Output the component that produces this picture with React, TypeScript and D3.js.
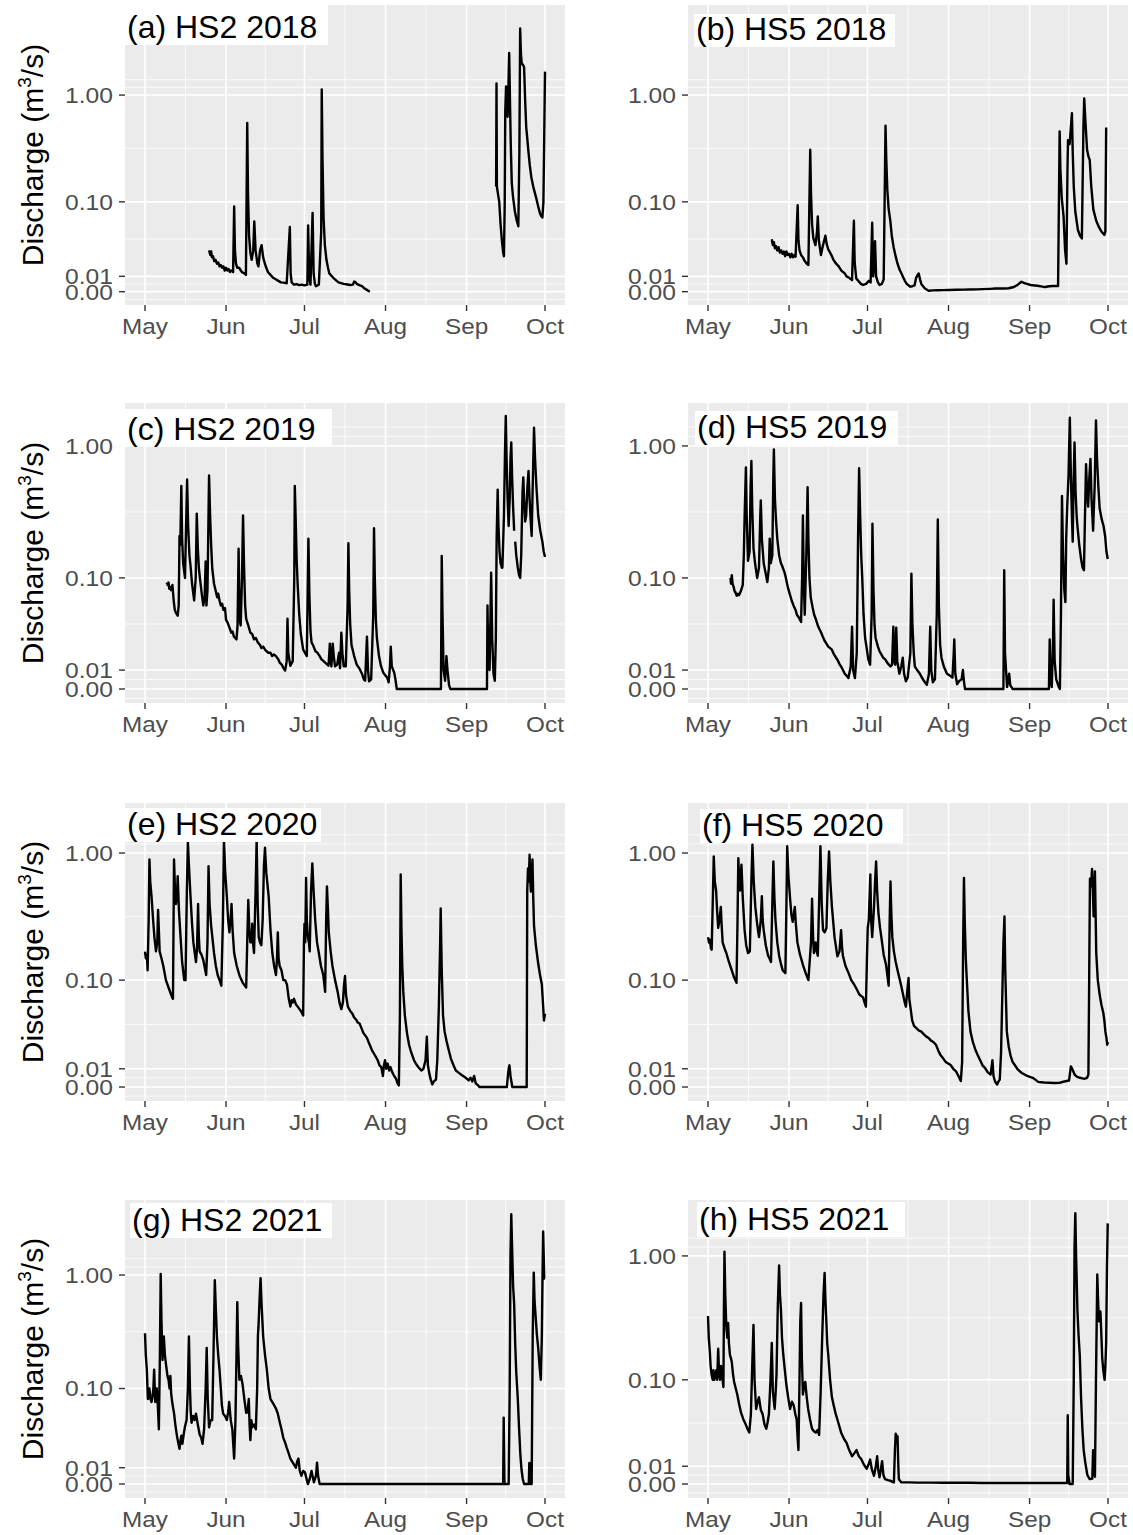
import React from "react";
import * as d3 from "d3";

type Pt = [number, number] | null;

// ---- data: [days since May 1, discharge m3/s]; null = gap ----
const hs2_2018: Pt[] = [
  [24.5,0.030],[25,0.026],[25.3,0.029],[25.6,0.024],[26,0.025],[26.5,0.021],[27,0.022],[27.5,0.019],[28,0.02],[28.5,0.017],[29,0.018],[29.5,0.016],[30,0.017],[30.5,0.014],[31,0.016],[31.5,0.014],[32,0.015],[32.5,0.013],[33,0.014],[33.7,0.013],[34.1,0.09],[34.4,0.03],[34.8,0.019],[35.3,0.016],[36,0.016],[37,0.013],[38,0.012],[38.6,0.011],[39.1,0.55],[39.4,0.12],[39.8,0.045],[40.3,0.028],[40.8,0.022],[41.4,0.03],[41.8,0.064],[42.3,0.03],[43,0.019],[43.4,0.017],[44,0.03],[44.6,0.035],[45.2,0.024],[46,0.018],[47,0.013],[48,0.011],[49,0.009],[50,0.008],[51,0.007],[52,0.006],[53,0.0058],[54.2,0.0054],[55.4,0.056],[55.7,0.012],[56.1,0.006],[57,0.0045],[58,0.0048],[59,0.0042],[60,0.0045],[61,0.004],[62.1,0.0045],[62.4,0.058],[62.8,0.01],[63.3,0.0045],[64.1,0.078],[64.5,0.012],[65,0.005],[65.4,0.0035],[66.5,0.0045],[67.4,0.05],[67.6,1.13],[67.9,0.25],[68.3,0.07],[68.8,0.035],[69.4,0.022],[70,0.016],[70.5,0.012],[71,0.011],[72,0.009],[73,0.0075],[74,0.006],[75,0.0055],[76,0.005],[77,0.0048],[78.4,0.0043],[79.5,0.0045],[80,0.0065],[80.5,0.0062],[81,0.005],[82,0.0042],[83,0.0035],[84,0.002],[85,0.001],[86,0.0],
  null,
  [134.3,0.14],[134.45,1.28],[134.6,0.14],[135,0.12],[135.5,0.1],[136,0.06],[136.5,0.04],[137,0.028],[137.3,0.025],[137.6,0.1],[137.8,0.7],[138.1,1.2],[138.4,0.8],[138.7,0.63],[139.1,1.5],[139.3,2.46],[139.6,0.9],[139.9,0.35],[140.3,0.15],[140.8,0.11],[141.5,0.08],[142.2,0.065],[142.8,0.057],[143.2,0.3],[143.5,4.15],[143.8,2.4],[144.1,1.97],[144.6,1.9],[145,1.82],[145.4,0.9],[145.8,0.51],[146.2,0.4],[146.6,0.31],[147.2,0.22],[147.8,0.17],[148.5,0.14],[149.2,0.12],[149.8,0.105],[150.4,0.09],[151.1,0.077],[151.6,0.072],[152,0.07],[152.4,0.1],[152.7,0.4],[153,1.65]
];

const hs5_2018: Pt[] = [
  [24.4,0.041],[24.8,0.035],[25.2,0.038],[25.6,0.032],[26,0.034],[26.5,0.03],[27,0.033],[27.5,0.028],[28,0.03],[28.5,0.027],[29,0.029],[29.5,0.025],[30,0.029],[30.5,0.026],[31,0.027],[31.5,0.024],[32,0.027],[32.5,0.024],[33,0.026],[33.5,0.0246],[34.3,0.093],[34.6,0.04],[35,0.03],[35.6,0.026],[36.3,0.024],[37,0.021],[37.8,0.019],[38.4,0.018],[39.1,0.31],[39.4,0.12],[39.8,0.06],[40.3,0.042],[41.1,0.035],[41.7,0.05],[42,0.072],[42.4,0.04],[43.2,0.026],[44,0.035],[44.9,0.045],[45.4,0.036],[46,0.031],[46.7,0.028],[47.4,0.025],[48,0.022],[49,0.019],[50,0.017],[51,0.014],[52.3,0.012],[53,0.01],[54,0.009],[55.1,0.0075],[55.8,0.065],[56.1,0.02],[56.7,0.0086],[57.5,0.007],[58.5,0.005],[59.3,0.0043],[60.5,0.005],[61.5,0.007],[62.2,0.006],[62.8,0.062],[63.2,0.01],[63.6,0.02],[63.9,0.039],[64.3,0.01],[65,0.006],[65.6,0.0043],[66.5,0.005],[67.2,0.008],[67.7,0.2],[67.9,0.52],[68.2,0.25],[68.6,0.13],[69.1,0.085],[69.7,0.066],[70.3,0.045],[71,0.033],[71.8,0.0246],[72.5,0.019],[73.2,0.015],[74,0.012],[74.6,0.0096],[75.3,0.007],[76,0.005],[76.8,0.004],[77.4,0.0032],[78.2,0.0035],[79,0.004],[79.6,0.009],[80.2,0.011],[80.6,0.012],[81.1,0.008],[81.6,0.005],[82.5,0.003],[83,0.002],[84.4,0.0006],[86,0.0008],[88,0.0009],[90,0.001],[92,0.0011],[95,0.0012],[98,0.0013],[100,0.0014],[103,0.0015],[105,0.0016],[108,0.0018],[110,0.002],[113,0.002],[115,0.0022],[117,0.003],[118.5,0.0045],[119.9,0.0064],[121,0.0055],[122,0.005],[123.4,0.0043],[125,0.004],[126,0.0038],[128,0.0032],[129,0.003],[130.5,0.0035],[132,0.0036],[133.9,0.0036],[134.5,0.46],[134.8,0.2],[135.3,0.11],[136,0.072],[136.6,0.03],[137.1,0.019],[137.5,0.2],[137.7,0.38],[138.3,0.35],[138.8,0.5],[139.2,0.68],[139.5,0.3],[139.9,0.14],[140.5,0.08],[141.5,0.052],[142.3,0.045],[143,0.042],[143.6,0.5],[143.9,0.93],[144.4,0.55],[145,0.31],[145.5,0.27],[146,0.25],[146.6,0.14],[147.4,0.084],[148.5,0.065],[149.5,0.056],[150.5,0.05],[151.6,0.046],[152,0.05],[152.3,0.5]
];

const hs2_2019: Pt[] = [
  [8.3,0.092],[8.7,0.088],[9,0.092],[9.3,0.082],[9.6,0.085],[10,0.08],[10.5,0.088],[11,0.065],[11.4,0.055],[11.8,0.052],[12.5,0.049],[12.9,0.06],[13.2,0.21],[13.5,0.18],[13.9,0.5],[14.2,0.2],[14.6,0.13],[15.3,0.1],[15.8,0.3],[16.1,0.56],[16.5,0.25],[17,0.15],[17.4,0.125],[18,0.09],[18.8,0.066],[19.4,0.1],[19.8,0.31],[20.2,0.17],[20.6,0.12],[21,0.1],[21.7,0.075],[22.3,0.06],[22.8,0.07],[23.2,0.134],[23.5,0.06],[23.9,0.08],[24.5,0.6],[24.9,0.3],[25.3,0.18],[25.7,0.12],[26.4,0.09],[27.1,0.078],[27.6,0.07],[28,0.075],[28.5,0.066],[29,0.06],[29.5,0.062],[30,0.055],[30.6,0.057],[31,0.045],[31.5,0.043],[32,0.04],[32.5,0.037],[33,0.034],[33.5,0.035],[34,0.031],[34.5,0.03],[35,0.029],[35.4,0.04],[35.8,0.168],[36.2,0.045],[36.6,0.04],[37.1,0.1],[37.5,0.3],[37.9,0.12],[38.3,0.06],[38.7,0.046],[39.5,0.04],[40.3,0.034],[41,0.033],[41.7,0.029],[42.4,0.03],[43.1,0.027],[44,0.025],[44.5,0.023],[45.2,0.024],[45.9,0.022],[46.5,0.021],[47.2,0.02],[48,0.02],[48.6,0.018],[49.3,0.019],[50.1,0.018],[51,0.016],[51.6,0.014],[52.3,0.013],[53,0.011],[53.6,0.0097],[54.2,0.015],[54.5,0.046],[54.8,0.02],[55.3,0.015],[55.6,0.0124],[56.5,0.015],[57.1,0.1],[57.3,0.5],[57.6,0.3],[58,0.14],[58.4,0.088],[59,0.05],[59.6,0.033],[60.5,0.022],[61.2,0.02],[61.9,0.018],[62.5,0.2],[62.9,0.07],[63.3,0.035],[63.7,0.027],[64.5,0.024],[65.2,0.021],[66,0.02],[66.8,0.018],[67.5,0.016],[68.3,0.015],[69,0.014],[70.2,0.0124],[70.7,0.026],[71,0.016],[71.3,0.012],[71.8,0.026],[72.2,0.018],[72.7,0.012],[73.5,0.013],[74.2,0.02],[74.6,0.011],[75.1,0.034],[75.5,0.02],[76,0.012],[76.8,0.012],[77.5,0.06],[77.8,0.185],[78.1,0.08],[78.5,0.04],[79,0.025],[80,0.018],[81,0.013],[82.1,0.0106],[83,0.008],[83.7,0.005],[84.2,0.0043],[84.9,0.031],[85.3,0.01],[85.7,0.004],[86.5,0.005],[87.3,0.05],[87.6,0.24],[87.9,0.1],[88.3,0.045],[88.7,0.03],[89.5,0.018],[90.3,0.012],[91.1,0.0087],[92,0.007],[92.6,0.006],[93.2,0.0035],[93.7,0.012],[94,0.024],[94.4,0.012],[95.3,0.0087],[95.8,0.005],[96.3,0],[113.2,0],[113.5,0.148],[113.8,0.05],[114.2,0.01],[114.8,0.0043],[115.3,0.018],[115.7,0.01],[116.3,0.002],[116.8,0],[130.8,0],[131,0.06],[131.3,0.015],[131.8,0.01],[132.2,0.06],[132.4,0.11],[132.8,0.03],[133.3,0.008],[133.8,0.0043],[134.2,0.03],[134.5,0.2],[134.9,0.47],[135.2,0.25],[135.6,0.16],[136,0.13],[136.5,0.12],[136.7,0.12],[137.3,0.3],[137.7,0.9],[138,1.68],[138.3,0.8],[138.7,0.4],[139.1,0.25],[139.5,0.4],[139.8,0.8],[140.1,1.06],[140.4,0.6],[140.8,0.35],[141.2,0.23],
  null,
  [141.6,0.19],[142,0.15],[142.6,0.12],[143.1,0.105],[143.5,0.1],[143.9,0.15],[144.4,0.45],[144.7,0.58],[145,0.4],[145.4,0.27],[145.8,0.3],[146.3,0.5],[146.7,0.65],[147.1,0.4],[147.5,0.28],[147.9,0.21],[148.3,0.5],[148.8,1.37],[149.2,0.8],[149.7,0.5],[150.4,0.3],[151.2,0.23],[152,0.19],[152.5,0.16],[153,0.145]
];

const hs5_2019: Pt[] = [
  [8.6,0.1],[8.8,0.09],[9.1,0.105],[9.4,0.09],[9.8,0.085],[10.2,0.078],[10.5,0.077],[11,0.072],[11.5,0.075],[11.9,0.073],[12.5,0.078],[13.3,0.088],[13.7,0.15],[14,0.29],[14.5,0.69],[14.8,0.3],[15.3,0.136],[15.9,0.16],[16.3,0.5],[16.6,0.77],[16.9,0.35],[17.4,0.17],[18,0.13],[18.8,0.1],[19.5,0.12],[20,0.3],[20.2,0.39],[20.6,0.2],[21.3,0.13],[22,0.11],[22.7,0.093],[23.3,0.12],[23.6,0.2],[24,0.13],[24.6,0.15],[25,0.6],[25.2,0.94],[25.6,0.4],[26,0.28],[26.5,0.2],[27.2,0.15],[27.9,0.13],[28.3,0.125],[29.3,0.11],[29.8,0.1],[30.5,0.085],[31.4,0.073],[32,0.066],[32.7,0.06],[33.5,0.055],[34,0.05],[34.8,0.047],[35.6,0.043],[36,0.1],[36.3,0.3],[36.6,0.1],[37,0.05],[37.6,0.15],[38.1,0.49],[38.4,0.2],[38.8,0.1],[39.3,0.07],[40,0.058],[40.6,0.05],[41.2,0.046],[42,0.04],[42.6,0.037],[43.3,0.034],[43.9,0.031],[44.6,0.028],[45.3,0.026],[46,0.024],[46.7,0.023],[47.4,0.022],[48.2,0.019],[49,0.017],[49.8,0.015],[50.4,0.013],[50.9,0.012],[51.6,0.01],[52.3,0.008],[53,0.007],[53.7,0.0057],[54.6,0.012],[55.1,0.039],[55.5,0.01],[56.2,0.0057],[56.9,0.02],[57.4,0.2],[57.8,0.68],[58.2,0.3],[58.6,0.15],[59,0.1],[59.5,0.05],[60.1,0.03],[60.7,0.023],[61.3,0.016],[62,0.013],[62.6,0.05],[62.9,0.26],[63.3,0.08],[63.7,0.04],[64.1,0.03],[65,0.024],[65.6,0.021],[66.3,0.019],[67,0.017],[67.8,0.016],[68.6,0.014],[69.2,0.013],[69.8,0.012],[70.4,0.013],[70.9,0.039],[71.2,0.015],[71.6,0.013],[72,0.038],[72.4,0.015],[73.2,0.008],[73.9,0.012],[74.5,0.017],[75,0.008],[75.7,0.004],[76.4,0.006],[77.4,0.02],[77.8,0.108],[78.2,0.04],[78.7,0.02],[79.1,0.012],[80,0.01],[80.9,0.0083],[81.8,0.006],[82.7,0.004],[83.7,0.0022],[84.5,0.008],[85,0.039],[85.4,0.01],[86,0.0035],[86.8,0.005],[87.5,0.05],[87.9,0.28],[88.3,0.06],[88.8,0.025],[89.3,0.017],[90.2,0.012],[91.4,0.008],[92.5,0.007],[93.5,0.006],[94,0.02],[94.2,0.029],[94.6,0.008],[95.3,0.0025],[96,0.004],[97,0.005],[97.5,0.01],[97.9,0.004],[98.3,0],[113,0],[113.3,0.115],[113.6,0.02],[114.4,0.001],[115.2,0.008],[115.6,0.002],[116.5,0],[130.4,0],[130.7,0.029],[131,0.005],[131.5,0.001],[132,0.03],[132.2,0.067],[132.6,0.015],[133.2,0.005],[134.2,0.001],[134.6,0],[135,0.05],[135.4,0.42],[135.8,0.15],[136.3,0.08],[136.7,0.064],[137,0.2],[137.4,0.35],[137.9,0.6],[138.4,1.63],[138.8,0.6],[139.2,0.3],[139.5,0.19],[139.8,0.5],[140.2,1.06],[140.6,0.45],[141,0.3],[141.3,0.25],[142,0.18],[142.7,0.14],[143.3,0.12],[143.8,0.115],[144.2,0.3],[144.6,0.73],[145,0.45],[145.4,0.35],[145.9,0.6],[146.3,0.8],[146.7,0.4],[147.3,0.23],[147.9,0.5],[148.4,1.55],[148.8,0.8],[149.3,0.5],[149.8,0.34],[150.6,0.28],[151.3,0.25],[151.9,0.21],[152.4,0.16],[152.9,0.14]
];

const hs2_2020: Pt[] = [
  [0,0.169],[0.3,0.15],[0.7,0.16],[1,0.12],[1.4,0.3],[1.7,0.89],[2,0.6],[2.5,0.46],[3.1,0.3],[3.6,0.22],[4.2,0.17],[4.7,0.2],[5,0.36],[5.3,0.25],[5.6,0.17],[6.3,0.15],[7,0.13],[8,0.1],[9,0.087],[9.8,0.078],[10.4,0.072],[10.7,0.07],[11.1,0.89],[11.5,0.5],[11.8,0.4],[12.2,0.45],[12.5,0.66],[13,0.35],[13.6,0.22],[14.2,0.14],[15,0.1],[15.5,0.1],[16,0.5],[16.4,1.23],[16.8,0.8],[17.4,0.46],[18,0.28],[18.5,0.2],[19.5,0.14],[19.9,0.18],[20.3,0.4],[20.6,0.22],[20.9,0.17],[21.6,0.16],[22.3,0.145],[23.4,0.11],[23.9,0.2],[24.3,0.79],[24.7,0.4],[25.3,0.27],[26.4,0.165],[27.1,0.13],[27.8,0.11],[28.5,0.1],[29.2,0.09],[29.8,0.3],[30.2,1.27],[30.7,0.7],[31.3,0.46],[31.8,0.3],[32.3,0.24],[32.7,0.3],[33.1,0.4],[33.5,0.25],[34.1,0.165],[35.1,0.13],[36.2,0.108],[37.4,0.095],[38.7,0.087],[39.1,0.2],[39.5,0.43],[39.9,0.25],[40.3,0.2],[40.7,0.2],[41,0.28],[41.3,0.2],[41.7,0.165],[42.3,0.5],[42.7,1.27],[43.1,0.4],[43.5,0.22],[44,0.2],[44.5,0.19],[45,0.3],[45.5,0.8],[45.9,1.1],[46.4,0.7],[47.3,0.46],[48,0.25],[48.7,0.165],[49.4,0.13],[50.1,0.11],[50.5,0.15],[50.8,0.24],[51.1,0.15],[51.5,0.13],[52.2,0.12],[52.9,0.1],[53.6,0.1],[54.3,0.092],[55,0.07],[55.6,0.06],[56.1,0.068],[56.5,0.065],[57,0.07],[57.7,0.063],[58.4,0.06],[59.1,0.057],[59.8,0.054],[60.5,0.05],[60.8,0.2],[61,0.28],[61.3,0.2],[61.6,0.64],[61.9,0.3],[62.3,0.22],[62.7,0.2],[63,0.17],[63.5,0.5],[64,0.83],[64.5,0.5],[65.1,0.3],[65.8,0.2],[66.5,0.165],[67.3,0.13],[68.2,0.11],[68.9,0.08],[69.3,0.3],[69.6,0.55],[70,0.35],[70.3,0.24],[71,0.17],[71.7,0.13],[72.7,0.1],[73.7,0.08],[74.4,0.065],[75.1,0.057],[75.7,0.065],[76.1,0.09],[76.5,0.108],[76.9,0.075],[77.6,0.06],[78.5,0.055],[79.3,0.052],[80,0.048],[80.7,0.046],[81.4,0.043],[82.1,0.042],[82.8,0.038],[83.5,0.034],[84.2,0.032],[84.9,0.03],[85.5,0.027],[86.2,0.024],[86.9,0.021],[87.6,0.019],[88.3,0.017],[89,0.015],[89.7,0.012],[90.4,0.011],[91,0.006],[91.4,0.012],[91.8,0.015],[92.3,0.01],[92.8,0.013],[93.4,0.009],[93.9,0.011],[94.6,0.008],[95.3,0.006],[96,0.0045],[96.6,0.002],[97.1,0.0009],[97.5,0.05],[97.8,0.68],[98.1,0.25],[98.4,0.13],[98.8,0.08],[99.4,0.05],[100.2,0.034],[101,0.025],[101.8,0.02],[102.9,0.015],[103.6,0.013],[104.5,0.011],[105.7,0.009],[106.5,0.01],[107.3,0.015],[107.8,0.031],[108.2,0.012],[108.8,0.007],[109.3,0.004],[109.9,0.0014],[110.5,0.003],[111.3,0.004],[111.8,0.015],[112.4,0.06],[112.9,0.2],[113.1,0.37],[113.5,0.12],[114,0.05],[114.6,0.035],[115.3,0.028],[116.1,0.022],[117,0.016],[118,0.012],[118.9,0.009],[119.8,0.008],[120.7,0.007],[121.7,0.006],[122.7,0.005],[123.8,0.0036],[124.5,0.005],[125.2,0.003],[125.9,0.006],[126.5,0.002],[127.3,0.001],[128,0],[138.4,0],[138.8,0.006],[139.1,0.01],[139.4,0.012],[139.8,0.006],[140.5,0],[146,0],[146.2,0.5],[146.5,0.76],[146.8,0.6],[147.1,0.97],[147.4,0.6],[147.6,0.5],[147.9,0.6],[148.2,0.89],[148.5,0.45],[148.8,0.27],[149.5,0.19],[150.4,0.136],[151.1,0.11],[151.8,0.092],[152.3,0.06],[152.6,0.045],[153,0.052]
];

const hs5_2020: Pt[] = [
  [0,0.22],[0.4,0.2],[0.7,0.21],[1.1,0.18],[1.4,0.175],[1.8,0.4],[2.2,0.94],[2.6,0.6],[3.1,0.51],[3.5,0.35],[3.9,0.26],[4.4,0.3],[4.9,0.38],[5.2,0.28],[5.6,0.2],[6.3,0.18],[7,0.165],[8,0.14],[9.1,0.12],[10,0.105],[10.9,0.095],[11.3,0.3],[11.6,0.91],[12,0.55],[12.3,0.51],[12.6,0.7],[12.8,0.81],[13.3,0.45],[14,0.25],[14.6,0.19],[15.3,0.165],[16,0.17],[16.6,0.6],[17,1.16],[17.5,0.6],[18.1,0.38],[18.8,0.28],[19.5,0.22],[20.2,0.3],[20.6,0.46],[20.9,0.3],[21.3,0.25],[22.1,0.19],[23,0.157],[23.5,0.15],[24.1,0.14],[24.6,0.4],[25,0.86],[25.4,0.45],[25.8,0.3],[26.5,0.2],[27.2,0.157],[27.9,0.135],[28.6,0.12],[29.6,0.114],[30,0.4],[30.3,1.13],[30.8,0.65],[31.4,0.44],[31.9,0.33],[32.4,0.29],[32.8,0.33],[33.2,0.38],[33.6,0.28],[34.2,0.2],[35.2,0.16],[36.3,0.133],[37.3,0.115],[38.4,0.1],[39.4,0.2],[39.8,0.44],[40.2,0.22],[40.5,0.165],[40.9,0.18],[41.2,0.2],[41.6,0.17],[42,0.157],[42.6,0.5],[43,1.13],[43.5,0.4],[44,0.25],[44.6,0.24],[45.3,0.26],[45.8,0.6],[46.3,1.03],[46.8,0.6],[47.4,0.38],[48.4,0.22],[49.5,0.155],[50.3,0.17],[50.9,0.25],[51.3,0.18],[51.6,0.157],[52.6,0.13],[53.7,0.115],[54.8,0.1],[55.8,0.093],[56.8,0.085],[57.9,0.076],[58.6,0.074],[59.3,0.072],[59.9,0.065],[60.4,0.06],[60.8,0.15],[61.1,0.26],[61.5,0.3],[62.1,0.68],[62.4,0.3],[62.8,0.22],[63.2,0.3],[63.5,0.38],[63.9,0.6],[64.3,0.86],[64.7,0.5],[65.2,0.34],[65.8,0.26],[66.3,0.22],[67.2,0.16],[68.1,0.133],[68.6,0.11],[69.1,0.09],[69.5,0.3],[69.8,0.6],[70.1,0.35],[70.5,0.22],[71.1,0.17],[71.8,0.14],[72.5,0.12],[73.2,0.104],[73.9,0.09],[74.6,0.076],[75.2,0.066],[75.7,0.06],[76.2,0.08],[76.7,0.104],[77,0.07],[77.4,0.06],[78.1,0.045],[78.8,0.04],[79.7,0.038],[80.6,0.036],[81.6,0.035],[82.5,0.033],[83.5,0.031],[84.4,0.03],[85.3,0.028],[86.2,0.027],[87.2,0.025],[88.1,0.021],[89,0.018],[90,0.016],[90.9,0.014],[91.9,0.013],[92.8,0.0122],[93.8,0.01],[94.9,0.0085],[95.8,0.006],[96.7,0.0032],[97.2,0.0139],[97.6,0.2],[97.9,0.64],[98.2,0.3],[98.6,0.15],[99,0.1],[99.6,0.055],[100.4,0.035],[101.3,0.027],[102.2,0.022],[103.2,0.018],[104.1,0.015],[105,0.012],[106,0.0104],[107,0.008],[108.1,0.0068],[108.8,0.015],[109.2,0.006],[109.8,0.003],[110.6,0.0014],[111.1,0.003],[111.6,0.004],[112.1,0.02],[112.6,0.08],[113,0.2],[113.4,0.32],[113.7,0.12],[114.3,0.035],[115,0.024],[115.7,0.018],[116.5,0.014],[117.4,0.012],[118.3,0.01],[119.3,0.0085],[120.2,0.0075],[121.1,0.0068],[122.1,0.006],[123.1,0.0055],[124.2,0.005],[125.2,0.004],[126.3,0.0028],[127.5,0.0026],[128.8,0.0024],[130.4,0.0023],[132.5,0.0022],[134.6,0.0023],[136.3,0.003],[138.1,0.0035],[138.5,0.008],[138.8,0.0114],[139.3,0.01],[140.2,0.0068],[141.2,0.0055],[142.3,0.005],[143.2,0.0047],[144.1,0.0045],[145,0.005],[145.5,0.0068],[145.8,0.1],[146.1,0.63],[146.5,0.55],[146.9,0.75],[147.2,0.5],[147.5,0.32],[147.8,0.5],[148,0.72],[148.3,0.3],[148.5,0.165],[149.1,0.1],[149.8,0.076],[150.5,0.062],[151.2,0.053],[151.6,0.045],[152,0.035],[152.4,0.03],[152.7,0.025],[153,0.027]
];

const hs2_2021: Pt[] = [
  [0,0.31],[0.3,0.2],[0.7,0.148],[1.1,0.08],[1.4,0.09],[1.7,0.1],[2.1,0.08],[2.5,0.075],[2.9,0.085],[3.2,0.1],[3.5,0.148],[3.9,0.075],[4.2,0.09],[4.5,0.1],[4.9,0.07],[5.3,0.04],[5.7,0.2],[6,1.02],[6.3,0.4],[6.7,0.18],[7,0.25],[7.2,0.29],[7.6,0.2],[8.1,0.16],[8.6,0.13],[9,0.12],[9.4,0.1],[9.7,0.13],[10,0.09],[10.4,0.075],[10.8,0.065],[11.1,0.059],[11.6,0.045],[12.2,0.034],[12.7,0.028],[13.2,0.023],[13.6,0.03],[13.9,0.034],[14.3,0.027],[14.8,0.035],[15.3,0.043],[15.9,0.05],[16.4,0.1],[16.8,0.29],[17.2,0.1],[17.5,0.06],[17.8,0.047],[18.4,0.055],[19,0.05],[19.5,0.058],[20.2,0.045],[20.9,0.035],[21.5,0.032],[22,0.027],[22.6,0.04],[23.2,0.1],[23.6,0.23],[24,0.08],[24.5,0.042],[25.1,0.05],[25.7,0.05],[26.2,0.2],[26.7,0.9],[27.1,0.5],[27.5,0.29],[28,0.2],[28.5,0.148],[29,0.1],[29.4,0.07],[29.9,0.058],[30.6,0.055],[31.3,0.05],[31.8,0.06],[32.2,0.075],[32.8,0.05],[33.4,0.04],[33.8,0.025],[34.1,0.016],[34.6,0.05],[35,0.2],[35.3,0.58],[35.6,0.25],[36.1,0.12],[36.7,0.13],[37.3,0.11],[38,0.08],[38.7,0.059],[39.2,0.06],[39.7,0.08],[40,0.045],[40.3,0.03],[40.7,0.05],[41,0.042],[41.7,0.045],[42.4,0.04],[42.9,0.1],[43.2,0.3],[43.4,0.35],[43.8,0.6],[44.2,0.94],[44.6,0.55],[45.2,0.29],[45.9,0.2],[46.6,0.148],[47.3,0.1],[48,0.08],[48.7,0.075],[49.4,0.07],[50.1,0.065],[50.8,0.058],[51.5,0.048],[52.2,0.04],[52.9,0.032],[53.6,0.028],[54.2,0.024],[54.9,0.02],[55.6,0.016],[56.3,0.014],[57,0.012],[57.7,0.01],[58.2,0.014],[58.7,0.016],[59.2,0.008],[59.8,0.005],[60.5,0.008],[61.2,0.007],[61.8,0.003],[62.3,0],[63,0.003],[63.7,0.008],[64.2,0.004],[64.6,0.001],[65.4,0.005],[65.8,0.0133],[66.2,0.005],[66.8,0],[137,0],[137.2,0.053],[137.5,0],[139.1,0],[139.5,0.1],[139.8,1.5],[140.1,3.4],[140.4,1.8],[140.8,0.8],[141.2,0.56],[141.6,0.25],[142,0.14],[142.6,0.08],[143.1,0.04],[143.6,0.018],[144,0.009],[144.5,0.003],[145,0],[146.8,0],[147,0.013],[147.2,0.013],[147.5,0],[147.9,0],[148.3,0.3],[148.7,1.05],[149,0.6],[149.4,0.44],[149.9,0.3],[150.4,0.23],[150.9,0.16],[151.4,0.12],[151.8,0.3],[152.1,1.2],[152.3,2.4],[152.5,1.5],[152.7,0.93],[153,0.93]
];

const hs5_2021: Pt[] = [
  [0,0.33],[0.3,0.22],[0.7,0.17],[1,0.13],[1.4,0.11],[1.8,0.1],[2.1,0.12],[2.4,0.1],[2.8,0.11],[3.2,0.12],[3.5,0.1],[3.9,0.18],[4.2,0.12],[4.6,0.1],[5,0.13],[5.2,0.12],[5.6,0.1],[5.9,0.087],[6.1,0.4],[6.3,1.08],[6.6,0.5],[7,0.27],[7.4,0.22],[7.7,0.29],[8,0.2],[8.4,0.16],[8.8,0.15],[9.1,0.14],[9.6,0.11],[10,0.096],[10.6,0.085],[11.2,0.075],[11.9,0.062],[12.6,0.052],[13.5,0.045],[14.4,0.04],[15.1,0.036],[15.8,0.033],[16.4,0.05],[17,0.15],[17.4,0.28],[17.8,0.1],[18.4,0.056],[19,0.065],[19.5,0.071],[20.2,0.055],[20.9,0.05],[21.6,0.04],[22.3,0.036],[22.8,0.042],[23.3,0.05],[23.9,0.1],[24.4,0.2],[24.8,0.08],[25.5,0.056],[25.9,0.08],[26.2,0.11],[26.7,0.4],[27.2,0.84],[27.5,0.5],[27.9,0.37],[28.3,0.22],[28.8,0.16],[29.4,0.12],[30,0.09],[30.7,0.07],[31.4,0.056],[32.1,0.065],[32.8,0.06],[33.4,0.05],[33.9,0.045],[34.3,0.028],[34.6,0.02],[35,0.1],[35.3,0.3],[35.6,0.42],[35.9,0.15],[36.3,0.075],[36.8,0.09],[37.2,0.096],[37.8,0.07],[38.3,0.056],[39,0.045],[39.8,0.036],[40.5,0.034],[41.2,0.033],[41.9,0.035],[42.5,0.031],[43.1,0.08],[43.7,0.23],[44.2,0.5],[44.6,0.73],[44.9,0.45],[45.3,0.29],[45.6,0.2],[46,0.16],[46.7,0.1],[47.4,0.071],[48.1,0.06],[48.8,0.051],[49.8,0.042],[50.9,0.033],[52,0.028],[53,0.025],[54,0.02],[55.1,0.016],[56,0.018],[56.8,0.02],[57.7,0.016],[58.6,0.0143],[59.6,0.011],[60.7,0.0085],[61.4,0.011],[62,0.014],[62.7,0.008],[63.5,0.0046],[64.2,0.01],[64.7,0.016],[65.1,0.008],[65.6,0.0037],[66.1,0.008],[66.6,0.013],[67.1,0.005],[67.7,0.0027],[68.8,0.0022],[69.8,0.0018],[70.5,0.0012],[71.1,0.0009],[71.5,0.02],[71.8,0.032],[72.2,0.03],[72.5,0.03],[72.8,0.01],[73,0.0027],[74,0.0009],[77,0.0009],[80,0.0008],[85,0.0008],[90,0.0007],[95,0.0007],[100,0.0007],[105,0.0006],[110,0.0006],[115,0.0006],[120,0.0006],[125,0.0006],[130,0.0006],[137.4,0.0006],[137.6,0.049],[137.8,0.005],[138.3,0],[139.5,0],[139.9,0.1],[140.2,1.2],[140.5,2.2],[140.8,1.0],[141.3,0.37],[141.7,0.24],[142.2,0.16],[142.7,0.07],[143.2,0.036],[143.7,0.02],[144.3,0.0123],[145.1,0.005],[146,0.0027],[147,0.003],[147.3,0.02],[147.6,0.02],[148,0.004],[148.4,0.1],[148.9,0.71],[149.2,0.45],[149.5,0.3],[149.8,0.34],[150.1,0.36],[150.4,0.25],[150.8,0.15],[151.2,0.12],[151.7,0.1],[152,0.13],[152.3,0.2],[152.6,0.8],[152.9,1.82]
];

const Y_BREAKS = [0, 0.01, 0.1, 1];
const Y_LABELS = ["0.00", "0.01", "0.10", "1.00"];
const TAGS = ["(a)", "(b)", "(c)", "(d)", "(e)", "(f)", "(g)", "(h)"];
const SITES = ["HS2", "HS5"];
const YEARS = [2018, 2019, 2020, 2021];
const SERIES = [hs2_2018, hs5_2018, hs2_2019, hs5_2019, hs2_2020, hs5_2020, hs2_2021, hs5_2021];
// y-axis limits of each panel (m3/s)
const Y_LIMITS: [number, number][] = [
  [-0.00866, 6.85], [-0.00866, 6.85],
  [-0.00733, 2.10], [-0.00733, 2.10],
  [-0.0076, 2.456], [-0.0076, 2.456],
  [-0.00856, 4.52], [-0.0078, 2.80],
];

// ---- layout ----
const SIGMA = 0.015;
const COL_X = [125, 688];
const PANEL_W = 440;
const ROW_Y: [number, number][] = [[5, 305], [403, 703], [803, 1101], [1200, 1498]];
const LABEL_BOX: [number, number, number, number][] = [
  [118, 0, 210, 45], [694, 14, 201, 33],
  [118, 409, 214, 38], [695, 411, 203, 34],
  [118, 808, 203, 34], [700, 809, 203, 34],
  [130, 1203, 202, 35], [697, 1202, 208, 35],
];
const FONT = "'Liberation Sans', Arial, Helvetica, sans-serif";
const DAY = 86400000;

const tf = (v: number) => Math.asinh(v / (2 * SIGMA));

function Panel({ i }: { i: number }) {
  const col = i % 2;
  const row = Math.floor(i / 2);
  const year = YEARS[row];
  const data = SERIES[i];
  const left = COL_X[col], right = left + PANEL_W;
  const [top, bottom] = ROW_Y[row];
  const start = Date.UTC(year, 4, 1), end = Date.UTC(year, 9, 1);
  const pad = (end - start) * 0.05;
  const x = d3.scaleUtc().domain([new Date(start - pad), new Date(end + pad)]).range([left, right]);
  const [lo, hi] = Y_LIMITS[i];
  const yl = d3.scaleLinear().domain([tf(lo), tf(hi)]).range([bottom, top]);
  const y = (v: number) => yl(tf(v));

  const months = d3.utcMonth.range(new Date(start), new Date(end + 1));
  const minorX: number[] = [];
  for (let k = 0; k < months.length - 1; k++) minorX.push((+months[k] + +months[k + 1]) / 2);

  // regular minor breaks in transformed space
  const b = Y_BREAKS.map(tf);
  const bd = b[1] - b[0];
  const ext = [...b];
  if (tf(lo) < b[0]) ext.unshift(b[0] - bd);
  if (tf(hi) > b[b.length - 1]) ext.push(b[b.length - 1] + bd);
  const minorT: number[] = [];
  for (let k = 0; k < ext.length - 1; k++) minorT.push((ext[k] + ext[k + 1]) / 2);
  minorT.push(ext[ext.length - 1]);
  minorT.push(ext[0]);
  const tLo = tf(lo), tHi = tf(hi);

  const line = d3.line<Pt>()
    .defined((d) => d !== null)
    .x((d) => x(new Date(start + (d as [number, number])[0] * DAY)))
    .y((d) => y((d as [number, number])[1]));

  const [bx, by, bw, bh] = LABEL_BOX[i];
  const clipId = `clip${i}`;

  return (
    <g>
      <defs>
        <clipPath id={clipId}>
          <rect x={left} y={top} width={PANEL_W} height={bottom - top} />
        </clipPath>
      </defs>
      <rect x={left} y={top} width={PANEL_W} height={bottom - top} fill="#EBEBEB" />
      {minorT.filter((t) => t > tLo && t < tHi).map((t, k) => (
        <line key={"ym" + k} x1={left} x2={right} y1={yl(t)} y2={yl(t)} stroke="#fff" strokeWidth={0.8} />
      ))}
      {minorX.map((m, k) => (
        <line key={"xm" + k} x1={x(new Date(m))} x2={x(new Date(m))} y1={top} y2={bottom} stroke="#fff" strokeWidth={0.8} />
      ))}
      {Y_BREAKS.map((v, k) => (
        <line key={"yM" + k} x1={left} x2={right} y1={y(v)} y2={y(v)} stroke="#fff" strokeWidth={1.6} />
      ))}
      {months.map((m, k) => (
        <line key={"xM" + k} x1={x(m)} x2={x(m)} y1={top} y2={bottom} stroke="#fff" strokeWidth={1.6} />
      ))}
      <path d={line(data) || ""} fill="none" stroke="#000" strokeWidth={2.4} strokeLinejoin="round" clipPath={`url(#${clipId})`} />
      {/* y axis */}
      {Y_BREAKS.map((v, k) => (
        <g key={"yt" + k}>
          <line x1={left - 6} x2={left} y1={y(v)} y2={y(v)} stroke="#333" strokeWidth={1.4} />
          <text transform={`translate(${left - 12},${y(v)}) scale(1.12,1)`} dy="0.36em" textAnchor="end" fontSize={22} fill="#4D4D4D" fontFamily={FONT}>
            {Y_LABELS[k]}
          </text>
        </g>
      ))}
      {/* x axis */}
      {months.map((m, k) => (
        <g key={"xt" + k}>
          <line x1={x(m)} x2={x(m)} y1={bottom} y2={bottom + 6} stroke="#333" strokeWidth={1.4} />
          <text transform={`translate(${x(m)},${bottom + 29}) scale(1.08,1)`} textAnchor="middle" fontSize={22.5} fill="#4D4D4D" fontFamily={FONT}>
            {d3.utcFormat("%b")(m)}
          </text>
        </g>
      ))}
      {/* panel label */}
      <rect x={bx} y={by} width={bw} height={bh} fill="#fff" />
      <text x={bx + (bx < 125 ? 125 - bx + 2 : 2)} y={by + bh - 7} fontSize={32} fill="#000" fontFamily={FONT}>
        {`${TAGS[i]} ${SITES[col]} ${year}`}
      </text>
      {col === 0 && (
        <text transform={`translate(43,${(top + bottom) / 2}) rotate(-90)`} textAnchor="middle" fontSize={30} fill="#000" fontFamily={FONT}>
          Discharge (m<tspan dy="-12" fontSize={19}>3</tspan><tspan dy="12">/s)</tspan>
        </text>
      )}
    </g>
  );
}

export default function App() {
  return (
    <svg width={1133} height={1535} style={{ display: "block", position: "absolute", left: 0, top: 0 }}>
      <rect width={1133} height={1535} fill="#fff" />
      {SERIES.map((_, i) => <Panel key={i} i={i} />)}
    </svg>
  );
}
